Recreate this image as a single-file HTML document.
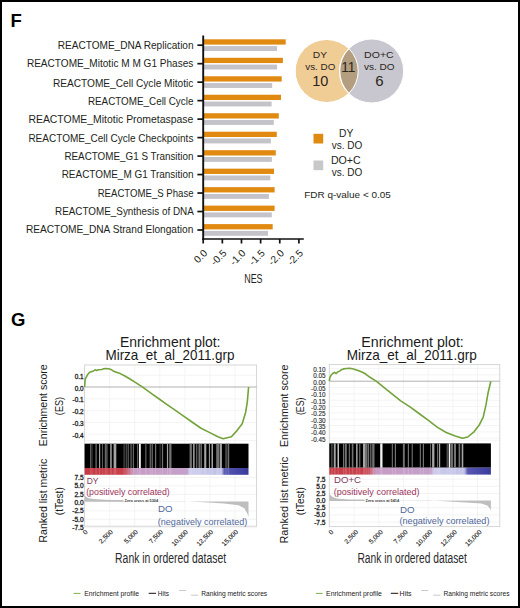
<!DOCTYPE html>
<html><head><meta charset="utf-8"><style>
html,body{margin:0;padding:0;background:#fff;}
body{width:520px;height:608px;overflow:hidden;font-family:"Liberation Sans", sans-serif;}
svg{display:block;}
</style></head><body>
<svg width="520" height="608" viewBox="0 0 520 608" font-family='"Liberation Sans", sans-serif'>
<rect x="0" y="0" width="520" height="608" fill="#fff"/>
<text id="F" x="10.40" y="26.60" font-size="18.50" fill="#000" font-weight="bold">F</text>
<text id="lab0" x="193.60" y="48.90" font-size="10.20" text-anchor="end" textLength="135.90" lengthAdjust="spacingAndGlyphs" fill="#231f20">REACTOME_DNA Replication</text>
<line x1="197.4" y1="45.20" x2="203" y2="45.20" stroke="#111" stroke-width="1.7"/>
<rect x="204" y="39.30" width="81.70" height="5.3" fill="#E08A12"/>
<rect x="204" y="46.10" width="73.10" height="4.9" fill="#C4C3C9"/>
<text id="lab1" x="193.40" y="67.24" font-size="10.20" text-anchor="end" textLength="166.50" lengthAdjust="spacingAndGlyphs" fill="#231f20">REACTOME_Mitotic M M G1 Phases</text>
<line x1="197.4" y1="63.68" x2="203" y2="63.68" stroke="#111" stroke-width="1.7"/>
<rect x="204" y="57.78" width="78.90" height="5.3" fill="#E08A12"/>
<rect x="204" y="64.58" width="73.10" height="4.9" fill="#C4C3C9"/>
<text id="lab2" x="193.40" y="86.58" font-size="10.20" text-anchor="end" textLength="140.50" lengthAdjust="spacingAndGlyphs" fill="#231f20">REACTOME_Cell Cycle Mitotic</text>
<line x1="197.4" y1="82.16" x2="203" y2="82.16" stroke="#111" stroke-width="1.7"/>
<rect x="204" y="76.26" width="77.70" height="5.3" fill="#E08A12"/>
<rect x="204" y="83.06" width="68.20" height="4.9" fill="#C4C3C9"/>
<text id="lab3" x="193.40" y="104.92" font-size="10.20" text-anchor="end" textLength="105.50" lengthAdjust="spacingAndGlyphs" fill="#231f20">REACTOME_Cell Cycle</text>
<line x1="197.4" y1="100.64" x2="203" y2="100.64" stroke="#111" stroke-width="1.7"/>
<rect x="204" y="94.74" width="77.00" height="5.3" fill="#E08A12"/>
<rect x="204" y="101.54" width="67.60" height="4.9" fill="#C4C3C9"/>
<text id="lab4" x="193.40" y="123.26" font-size="10.20" text-anchor="end" textLength="165.00" lengthAdjust="spacingAndGlyphs" fill="#231f20">REACTOME_Mitotic Prometaspase</text>
<line x1="197.4" y1="119.12" x2="203" y2="119.12" stroke="#111" stroke-width="1.7"/>
<rect x="204" y="113.22" width="74.80" height="5.3" fill="#E08A12"/>
<rect x="204" y="120.02" width="69.80" height="4.9" fill="#C4C3C9"/>
<text id="lab5" x="193.40" y="141.60" font-size="10.20" text-anchor="end" textLength="165.00" lengthAdjust="spacingAndGlyphs" fill="#231f20">REACTOME_Cell Cycle Checkpoints</text>
<line x1="197.4" y1="137.60" x2="203" y2="137.60" stroke="#111" stroke-width="1.7"/>
<rect x="204" y="131.70" width="72.80" height="5.3" fill="#E08A12"/>
<rect x="204" y="138.50" width="66.90" height="4.9" fill="#C4C3C9"/>
<text id="lab6" x="193.40" y="159.94" font-size="10.20" text-anchor="end" textLength="129.00" lengthAdjust="spacingAndGlyphs" fill="#231f20">REACTOME_G1 S Transition</text>
<line x1="197.4" y1="156.08" x2="203" y2="156.08" stroke="#111" stroke-width="1.7"/>
<rect x="204" y="150.18" width="71.80" height="5.3" fill="#E08A12"/>
<rect x="204" y="156.98" width="67.90" height="4.9" fill="#C4C3C9"/>
<text id="lab7" x="193.60" y="178.28" font-size="10.20" text-anchor="end" textLength="131.90" lengthAdjust="spacingAndGlyphs" fill="#231f20">REACTOME_M G1 Transition</text>
<line x1="197.4" y1="174.56" x2="203" y2="174.56" stroke="#111" stroke-width="1.7"/>
<rect x="204" y="168.66" width="70.00" height="5.3" fill="#E08A12"/>
<rect x="204" y="175.46" width="66.30" height="4.9" fill="#C4C3C9"/>
<text id="lab8" x="193.60" y="196.62" font-size="10.20" text-anchor="end" textLength="95.90" lengthAdjust="spacingAndGlyphs" fill="#231f20">REACTOME_S Phase</text>
<line x1="197.4" y1="193.04" x2="203" y2="193.04" stroke="#111" stroke-width="1.7"/>
<rect x="204" y="187.14" width="70.60" height="5.3" fill="#E08A12"/>
<rect x="204" y="193.94" width="64.90" height="4.9" fill="#C4C3C9"/>
<text id="lab9" x="193.80" y="214.96" font-size="10.20" text-anchor="end" textLength="138.80" lengthAdjust="spacingAndGlyphs" fill="#231f20">REACTOME_Synthesis of DNA</text>
<line x1="197.4" y1="211.52" x2="203" y2="211.52" stroke="#111" stroke-width="1.7"/>
<rect x="204" y="205.62" width="70.60" height="5.3" fill="#E08A12"/>
<rect x="204" y="212.42" width="67.80" height="4.9" fill="#C4C3C9"/>
<text id="lab10" x="193.40" y="233.30" font-size="10.20" text-anchor="end" textLength="167.50" lengthAdjust="spacingAndGlyphs" fill="#231f20">REACTOME_DNA Strand Elongation</text>
<line x1="197.4" y1="230.00" x2="203" y2="230.00" stroke="#111" stroke-width="1.7"/>
<rect x="204" y="224.10" width="68.70" height="5.3" fill="#E08A12"/>
<rect x="204" y="230.90" width="64.00" height="4.9" fill="#C4C3C9"/>
<line x1="203.2" y1="35.5" x2="203.2" y2="240" stroke="#111" stroke-width="1.9"/>
<line x1="202.3" y1="239" x2="303.8" y2="239" stroke="#111" stroke-width="1.7"/>
<line x1="203.20" y1="239" x2="203.20" y2="243.5" stroke="#111" stroke-width="1.7"/>
<text id="nx0" transform="translate(208.10,253.80) rotate(-45)" font-size="10.20" text-anchor="end" fill="#231f20">0.0</text>
<line x1="222.34" y1="239" x2="222.34" y2="243.5" stroke="#111" stroke-width="1.7"/>
<text id="nx1" transform="translate(227.24,253.80) rotate(-45)" font-size="10.20" text-anchor="end" fill="#231f20">-0.5</text>
<line x1="241.48" y1="239" x2="241.48" y2="243.5" stroke="#111" stroke-width="1.7"/>
<text id="nx2" transform="translate(246.38,253.80) rotate(-45)" font-size="10.20" text-anchor="end" fill="#231f20">-1.0</text>
<line x1="260.62" y1="239" x2="260.62" y2="243.5" stroke="#111" stroke-width="1.7"/>
<text id="nx3" transform="translate(265.52,253.80) rotate(-45)" font-size="10.20" text-anchor="end" fill="#231f20">-1.5</text>
<line x1="279.76" y1="239" x2="279.76" y2="243.5" stroke="#111" stroke-width="1.7"/>
<text id="nx4" transform="translate(284.66,253.80) rotate(-45)" font-size="10.20" text-anchor="end" fill="#231f20">-2.0</text>
<line x1="298.90" y1="239" x2="298.90" y2="243.5" stroke="#111" stroke-width="1.7"/>
<text id="nx5" transform="translate(303.80,253.80) rotate(-45)" font-size="10.20" text-anchor="end" fill="#231f20">-2.5</text>
<text id="NES" x="253.40" y="283.10" font-size="13.00" text-anchor="middle" textLength="18.28" lengthAdjust="spacingAndGlyphs" fill="#231f20">NES</text>
<circle cx="326.6" cy="71" r="31.6" fill="#F1CD96" stroke="#fff" stroke-width="1"/>
<circle cx="371.7" cy="71" r="32" fill="#C8C7CF" stroke="#fff" stroke-width="1"/>
<clipPath id="cl"><circle cx="326.6" cy="71" r="31.6"/></clipPath>
<circle cx="371.7" cy="71" r="32" fill="#B39E80" stroke="#fff" stroke-width="1.2" clip-path="url(#cl)"/>
<circle cx="326.6" cy="71" r="31.6" fill="none" stroke="#fff" stroke-width="1"/>
<text id="vDY" x="312.80" y="58.20" font-size="9.40" textLength="14.20" lengthAdjust="spacingAndGlyphs" fill="#2b2622">DY</text>
<text id="vvs1" x="305.30" y="70.20" font-size="9.40" textLength="30.00" lengthAdjust="spacingAndGlyphs" fill="#2b2622">vs. DO</text>
<text id="v10" x="312.20" y="86.20" font-size="14.20" textLength="16.11" lengthAdjust="spacingAndGlyphs" fill="#2b2622">10</text>
<text id="v11" x="341.30" y="72.30" font-size="14.20" textLength="14.14" lengthAdjust="spacingAndGlyphs" fill="#2b2622">11</text>
<text id="vDOC" x="364.10" y="57.60" font-size="9.40" textLength="29.59" lengthAdjust="spacingAndGlyphs" fill="#2b2622">DO+C</text>
<text id="vvs2" x="364.00" y="69.70" font-size="9.40" textLength="30.60" lengthAdjust="spacingAndGlyphs" fill="#2b2622">vs. DO</text>
<text id="v6" x="375.20" y="86.00" font-size="15.00" fill="#2b2622">6</text>
<rect x="313.5" y="133.8" width="9.7" height="9.7" fill="#E08A12"/>
<rect x="313.5" y="160.5" width="9.7" height="9.7" fill="#C8C8CA"/>
<text id="lDY" x="339.10" y="136.70" font-size="10.50" textLength="14.31" lengthAdjust="spacingAndGlyphs" fill="#231f20">DY</text>
<text id="lvs1" x="331.75" y="149.00" font-size="10.50" textLength="30.54" lengthAdjust="spacingAndGlyphs" fill="#231f20">vs. DO</text>
<text id="lDOC" x="330.90" y="163.90" font-size="10.50" textLength="29.84" lengthAdjust="spacingAndGlyphs" fill="#231f20">DO+C</text>
<text id="lvs2" x="331.75" y="176.00" font-size="10.50" textLength="30.54" lengthAdjust="spacingAndGlyphs" fill="#231f20">vs. DO</text>
<text id="FDR" x="304.30" y="197.70" font-size="9.80" textLength="86.52" lengthAdjust="spacingAndGlyphs" fill="#231f20">FDR q-value &lt; 0.05</text>
<text id="G" x="11.00" y="325.80" font-size="18.50" fill="#000" font-weight="bold">G</text>
<line x1="109.66" y1="365" x2="109.66" y2="526.2" stroke="#F1F1F1" stroke-width="0.8"/>
<line x1="134.72" y1="365" x2="134.72" y2="526.2" stroke="#F1F1F1" stroke-width="0.8"/>
<line x1="159.78" y1="365" x2="159.78" y2="526.2" stroke="#F1F1F1" stroke-width="0.8"/>
<line x1="184.84" y1="365" x2="184.84" y2="526.2" stroke="#F1F1F1" stroke-width="0.8"/>
<line x1="209.90" y1="365" x2="209.90" y2="526.2" stroke="#F1F1F1" stroke-width="0.8"/>
<line x1="234.96" y1="365" x2="234.96" y2="526.2" stroke="#F1F1F1" stroke-width="0.8"/>
<line x1="84.6" y1="375.20" x2="256.6" y2="375.20" stroke="#F1F1F1" stroke-width="0.8"/>
<line x1="84.6" y1="398.80" x2="256.6" y2="398.80" stroke="#F1F1F1" stroke-width="0.8"/>
<line x1="84.6" y1="410.60" x2="256.6" y2="410.60" stroke="#F1F1F1" stroke-width="0.8"/>
<line x1="84.6" y1="422.40" x2="256.6" y2="422.40" stroke="#F1F1F1" stroke-width="0.8"/>
<line x1="84.6" y1="434.20" x2="256.6" y2="434.20" stroke="#F1F1F1" stroke-width="0.8"/>
<line x1="84.6" y1="440.50" x2="256.6" y2="440.50" stroke="#F1F1F1" stroke-width="0.8"/>
<line x1="84.6" y1="477.55" x2="256.6" y2="477.55" stroke="#F0F0F0" stroke-width="0.8"/>
<line x1="84.6" y1="485.90" x2="256.6" y2="485.90" stroke="#F0F0F0" stroke-width="0.8"/>
<line x1="84.6" y1="494.25" x2="256.6" y2="494.25" stroke="#F0F0F0" stroke-width="0.8"/>
<line x1="84.6" y1="510.95" x2="256.6" y2="510.95" stroke="#F0F0F0" stroke-width="0.8"/>
<line x1="84.6" y1="519.30" x2="256.6" y2="519.30" stroke="#F0F0F0" stroke-width="0.8"/>
<line x1="84.6" y1="527.65" x2="256.6" y2="527.65" stroke="#F0F0F0" stroke-width="0.8"/>
<rect x="84.6" y="365" width="172.00" height="161.20" fill="none" stroke="#D2D2D2" stroke-width="0.9"/>
<line x1="84.6" y1="387.0" x2="256.6" y2="387.0" stroke="#A8A8A8" stroke-width="0.9"/>
<text id="Les0" x="83.60" y="378.80" font-size="6.40" text-anchor="end" fill="#222" stroke="#222" stroke-width="0.3">0.1</text>
<text id="Les1" x="83.60" y="390.60" font-size="6.40" text-anchor="end" fill="#222" stroke="#222" stroke-width="0.3">0.0</text>
<text id="Les2" x="83.60" y="402.40" font-size="6.40" text-anchor="end" fill="#222" stroke="#222" stroke-width="0.3">-0.1</text>
<text id="Les3" x="83.60" y="414.20" font-size="6.40" text-anchor="end" fill="#222" stroke="#222" stroke-width="0.3">-0.2</text>
<text id="Les4" x="83.60" y="426.00" font-size="6.40" text-anchor="end" fill="#222" stroke="#222" stroke-width="0.3">-0.3</text>
<text id="Les5" x="83.60" y="437.80" font-size="6.40" text-anchor="end" fill="#222" stroke="#222" stroke-width="0.3">-0.4</text>
<polyline points="84.6,387.0 85.2,379.4 86.3,377.1 87.5,374.8 89.4,372.5 91.7,371.5 93.6,370.9 95.2,369.8 96.7,370.5 98.6,369.8 101.7,369.5 103.6,368.8 105.5,368.5 108.6,368.8 110.9,369.4 113.2,370.9 116.3,372.3 120.2,373.6 124.0,375.5 129.2,378.5 135.7,382.6 143.0,387.4 151.9,393.9 159.9,399.5 166.0,403.8 174.7,409.9 183.3,415.9 192.0,422.0 200.6,428.0 209.3,432.4 217.9,436.7 223.1,438.8 231.4,436.7 237.0,430.6 242.2,423.7 245.6,412.5 247.3,402.1 248.6,387.0" fill="none" stroke="#73A33B" stroke-width="1.6" stroke-linejoin="round"/>
<rect x="84.6" y="443.7" width="163.90" height="24.30" fill="#000"/>
<linearGradient id="gL" x1="0" x2="1" y1="0" y2="0"><stop offset="0" stop-color="#C43A46"/><stop offset="0.24" stop-color="#C8424E"/><stop offset="0.3" stop-color="#C69CC4"/><stop offset="0.625" stop-color="#C4A0CA"/><stop offset="0.64" stop-color="#CCCCEC"/><stop offset="0.835" stop-color="#C0C0E6"/><stop offset="0.855" stop-color="#5656B2"/><stop offset="1" stop-color="#3A3A9C"/></linearGradient>
<rect x="84.6" y="468.0" width="163.90" height="6.80" fill="url(#gL)"/>
<rect x="90.2" y="443.7" width="1.10" height="24.30" fill="#727272"/>
<rect x="90.2" y="468.0" width="1.10" height="6.80" fill="#fff" fill-opacity="0.15"/>
<rect x="91.7" y="443.7" width="0.80" height="24.30" fill="#4a4a4a"/>
<rect x="91.7" y="468.0" width="0.80" height="6.80" fill="#fff" fill-opacity="0.15"/>
<rect x="95.5" y="443.7" width="1.20" height="24.30" fill="#727272"/>
<rect x="95.5" y="468.0" width="1.20" height="6.80" fill="#fff" fill-opacity="0.15"/>
<rect x="99" y="443.7" width="1.20" height="24.30" fill="#a4a4a4"/>
<rect x="99" y="468.0" width="1.20" height="6.80" fill="#fff" fill-opacity="0.15"/>
<rect x="102" y="443.7" width="0.80" height="24.30" fill="#727272"/>
<rect x="102" y="468.0" width="0.80" height="6.80" fill="#fff" fill-opacity="0.15"/>
<rect x="104.8" y="443.7" width="1.10" height="24.30" fill="#727272"/>
<rect x="104.8" y="468.0" width="1.10" height="6.80" fill="#fff" fill-opacity="0.15"/>
<rect x="106.3" y="443.7" width="1.20" height="24.30" fill="#727272"/>
<rect x="106.3" y="468.0" width="1.20" height="6.80" fill="#fff" fill-opacity="0.15"/>
<rect x="110.2" y="443.7" width="1.50" height="24.30" fill="#a4a4a4"/>
<rect x="110.2" y="468.0" width="1.50" height="6.80" fill="#fff" fill-opacity="0.15"/>
<rect x="113.6" y="443.7" width="2.70" height="24.30" fill="#a4a4a4"/>
<rect x="113.6" y="468.0" width="2.70" height="6.80" fill="#fff" fill-opacity="0.15"/>
<rect x="123.5" y="443.7" width="1.20" height="24.30" fill="#4a4a4a"/>
<rect x="123.5" y="468.0" width="1.20" height="6.80" fill="#fff" fill-opacity="0.15"/>
<rect x="125.8" y="443.7" width="0.80" height="24.30" fill="#727272"/>
<rect x="125.8" y="468.0" width="0.80" height="6.80" fill="#fff" fill-opacity="0.15"/>
<rect x="127.8" y="443.7" width="0.70" height="24.30" fill="#a4a4a4"/>
<rect x="127.8" y="468.0" width="0.70" height="6.80" fill="#fff" fill-opacity="0.15"/>
<rect x="130.5" y="443.7" width="1.10" height="24.30" fill="#727272"/>
<rect x="130.5" y="468.0" width="1.10" height="6.80" fill="#fff" fill-opacity="0.15"/>
<rect x="132.8" y="443.7" width="1.10" height="24.30" fill="#727272"/>
<rect x="132.8" y="468.0" width="1.10" height="6.80" fill="#fff" fill-opacity="0.15"/>
<rect x="137" y="443.7" width="0.80" height="24.30" fill="#727272"/>
<rect x="137" y="468.0" width="0.80" height="6.80" fill="#fff" fill-opacity="0.15"/>
<rect x="138.9" y="443.7" width="1.90" height="24.30" fill="#f2f2f2"/>
<rect x="138.9" y="468.0" width="1.90" height="6.80" fill="#fff" fill-opacity="0.15"/>
<rect x="145" y="443.7" width="1.60" height="24.30" fill="#4a4a4a"/>
<rect x="145" y="468.0" width="1.60" height="6.80" fill="#fff" fill-opacity="0.15"/>
<rect x="149.7" y="443.7" width="1.10" height="24.30" fill="#727272"/>
<rect x="149.7" y="468.0" width="1.10" height="6.80" fill="#fff" fill-opacity="0.15"/>
<rect x="151.6" y="443.7" width="1.20" height="24.30" fill="#727272"/>
<rect x="151.6" y="468.0" width="1.20" height="6.80" fill="#fff" fill-opacity="0.15"/>
<rect x="155" y="443.7" width="1.20" height="24.30" fill="#727272"/>
<rect x="155" y="468.0" width="1.20" height="6.80" fill="#fff" fill-opacity="0.15"/>
<rect x="159.7" y="443.7" width="0.80" height="24.30" fill="#4a4a4a"/>
<rect x="159.7" y="468.0" width="0.80" height="6.80" fill="#fff" fill-opacity="0.15"/>
<rect x="161.9" y="443.7" width="1.20" height="24.30" fill="#727272"/>
<rect x="161.9" y="468.0" width="1.20" height="6.80" fill="#fff" fill-opacity="0.15"/>
<rect x="166.9" y="443.7" width="1.20" height="24.30" fill="#a4a4a4"/>
<rect x="166.9" y="468.0" width="1.20" height="6.80" fill="#fff" fill-opacity="0.15"/>
<rect x="169.2" y="443.7" width="2.30" height="24.30" fill="#727272"/>
<rect x="169.2" y="468.0" width="2.30" height="6.80" fill="#fff" fill-opacity="0.15"/>
<rect x="189.6" y="443.7" width="2.30" height="24.30" fill="#727272"/>
<rect x="189.6" y="468.0" width="2.30" height="6.80" fill="#fff" fill-opacity="0.15"/>
<rect x="193.1" y="443.7" width="1.50" height="24.30" fill="#a4a4a4"/>
<rect x="193.1" y="468.0" width="1.50" height="6.80" fill="#fff" fill-opacity="0.15"/>
<rect x="196.2" y="443.7" width="1.10" height="24.30" fill="#727272"/>
<rect x="196.2" y="468.0" width="1.10" height="6.80" fill="#fff" fill-opacity="0.15"/>
<rect x="198.5" y="443.7" width="1.50" height="24.30" fill="#727272"/>
<rect x="198.5" y="468.0" width="1.50" height="6.80" fill="#fff" fill-opacity="0.15"/>
<rect x="200.6" y="443.7" width="1.00" height="24.30" fill="#a4a4a4"/>
<rect x="200.6" y="468.0" width="1.00" height="6.80" fill="#fff" fill-opacity="0.15"/>
<rect x="204.2" y="443.7" width="2.10" height="24.30" fill="#a4a4a4"/>
<rect x="204.2" y="468.0" width="2.10" height="6.80" fill="#fff" fill-opacity="0.15"/>
<rect x="208.9" y="443.7" width="1.00" height="24.30" fill="#a4a4a4"/>
<rect x="208.9" y="468.0" width="1.00" height="6.80" fill="#fff" fill-opacity="0.15"/>
<rect x="211.5" y="443.7" width="1.50" height="24.30" fill="#a4a4a4"/>
<rect x="211.5" y="468.0" width="1.50" height="6.80" fill="#fff" fill-opacity="0.15"/>
<rect x="216.2" y="443.7" width="3.10" height="24.30" fill="#727272"/>
<rect x="216.2" y="468.0" width="3.10" height="6.80" fill="#fff" fill-opacity="0.15"/>
<rect x="219.8" y="443.7" width="2.10" height="24.30" fill="#a4a4a4"/>
<rect x="219.8" y="468.0" width="2.10" height="6.80" fill="#fff" fill-opacity="0.15"/>
<rect x="225.5" y="443.7" width="1.10" height="24.30" fill="#727272"/>
<rect x="225.5" y="468.0" width="1.10" height="6.80" fill="#fff" fill-opacity="0.15"/>
<rect x="227.6" y="443.7" width="1.60" height="24.30" fill="#727272"/>
<rect x="227.6" y="468.0" width="1.60" height="6.80" fill="#fff" fill-opacity="0.15"/>
<polygon points="84.6,501.7 84.6,495.6 86.0,496.8 88.0,497.9 90.4,498.6 94.0,499.1 97.4,499.3 105.0,499.7 115.0,499.9 123.5,500.1 123.5,501.7 140.0,501.7 185.0,501.7 185.8,501.6 200.0,502.1 224.0,503.4 238.5,505.2 244.3,508.2 247.3,513.5 248.5,517.2 248.5,501.6 185.8,501.4" fill="#BEBEBE"/>
<text id="Lrl0" x="83.60" y="479.90" font-size="6.60" text-anchor="end" fill="#222" stroke="#222" stroke-width="0.3">7.5</text>
<text id="Lrl1" x="83.60" y="488.20" font-size="6.60" text-anchor="end" fill="#222" stroke="#222" stroke-width="0.3">5.0</text>
<text id="Lrl2" x="83.60" y="496.60" font-size="6.60" text-anchor="end" fill="#222" stroke="#222" stroke-width="0.3">2.5</text>
<text id="Lrl3" x="83.60" y="504.90" font-size="6.60" text-anchor="end" fill="#222" stroke="#222" stroke-width="0.3">0.0</text>
<text id="Lrl4" x="83.60" y="513.30" font-size="6.60" text-anchor="end" fill="#222" stroke="#222" stroke-width="0.3">-2.5</text>
<text id="Lrl5" x="83.60" y="521.60" font-size="6.60" text-anchor="end" fill="#222" stroke="#222" stroke-width="0.3">-5.0</text>
<text id="Lrl6" x="83.60" y="530.00" font-size="6.60" text-anchor="end" fill="#222" stroke="#222" stroke-width="0.3">-7.5</text>
<text id="Lzc" x="124.60" y="502.20" font-size="4.00" textLength="33.50" lengthAdjust="spacingAndGlyphs" fill="#3a3a3a" font-weight="bold">Zero cross at 5304</text>
<text id="Lp1" x="86.70" y="484.00" font-size="9.00" textLength="11.75" lengthAdjust="spacingAndGlyphs" fill="#7E3A5E">DY</text>
<text id="Lp2" x="86.20" y="495.30" font-size="9.00" textLength="83.60" lengthAdjust="spacingAndGlyphs" fill="#A0345C">(positively correlated)</text>
<text id="Ln1" x="158.10" y="512.30" font-size="9.00" textLength="14.52" lengthAdjust="spacingAndGlyphs" fill="#50679A">DO</text>
<text id="Ln2" x="157.80" y="525.10" font-size="9.00" textLength="89.41" lengthAdjust="spacingAndGlyphs" fill="#50679A">(negatively correlated)</text>
<text id="Lxl0" transform="translate(88.20,532.30) rotate(-45)" font-size="6.60" text-anchor="end" fill="#222" stroke="#222" stroke-width="0.12">0</text>
<text id="Lxl1" transform="translate(113.26,532.30) rotate(-45)" font-size="6.60" text-anchor="end" fill="#222" stroke="#222" stroke-width="0.12">2,500</text>
<text id="Lxl2" transform="translate(138.32,532.30) rotate(-45)" font-size="6.60" text-anchor="end" fill="#222" stroke="#222" stroke-width="0.12">5,000</text>
<text id="Lxl3" transform="translate(163.38,532.30) rotate(-45)" font-size="6.60" text-anchor="end" fill="#222" stroke="#222" stroke-width="0.12">7,500</text>
<text id="Lxl4" transform="translate(188.44,532.30) rotate(-45)" font-size="6.60" text-anchor="end" fill="#222" stroke="#222" stroke-width="0.12">10,000</text>
<text id="Lxl5" transform="translate(213.50,532.30) rotate(-45)" font-size="6.60" text-anchor="end" fill="#222" stroke="#222" stroke-width="0.12">12,500</text>
<text id="Lxl6" transform="translate(238.56,532.30) rotate(-45)" font-size="6.60" text-anchor="end" fill="#222" stroke="#222" stroke-width="0.12">15,000</text>
<text id="Lt1" x="170.20" y="346.70" font-size="15.00" text-anchor="middle" textLength="100.53" lengthAdjust="spacingAndGlyphs" fill="#1a1a1a">Enrichment plot:</text>
<text id="Lt2" x="170.00" y="359.60" font-size="15.00" text-anchor="middle" textLength="129.10" lengthAdjust="spacingAndGlyphs" fill="#1a1a1a">Mirza_et_al_2011.grp</text>
<text id="Lt3" x="170.65" y="563.40" font-size="15.40" text-anchor="middle" textLength="111.10" lengthAdjust="spacingAndGlyphs" fill="#2a2a2a">Rank in ordered dataset</text>
<text id="Ly1" transform="translate(47.30,405.30) rotate(-90)" font-size="10.60" text-anchor="middle" textLength="81.80" lengthAdjust="spacingAndGlyphs" fill="#1a1a1a">Enrichment score</text>
<text id="Ly2" transform="translate(63.20,406.10) rotate(-90)" font-size="10.60" text-anchor="middle" textLength="18.08" lengthAdjust="spacingAndGlyphs" fill="#1a1a1a">(ES)</text>
<text id="Ly3" transform="translate(47.30,500.70) rotate(-90)" font-size="10.60" text-anchor="middle" textLength="83.70" lengthAdjust="spacingAndGlyphs" fill="#1a1a1a">Ranked list metric</text>
<text id="Ly4" transform="translate(63.20,501.20) rotate(-90)" font-size="10.60" text-anchor="middle" textLength="27.91" lengthAdjust="spacingAndGlyphs" fill="#1a1a1a">(tTest)</text>
<line x1="73.7" y1="593.4" x2="80.5" y2="593.4" stroke="#7FB144" stroke-width="1"/>
<text id="Lg1" x="84.20" y="595.90" font-size="7.00" textLength="54.90" lengthAdjust="spacingAndGlyphs" fill="#222">Enrichment profile</text>
<line x1="148.7" y1="593.3" x2="156.10000000000002" y2="593.3" stroke="#111" stroke-width="1"/>
<text id="Lg2" x="157.80" y="595.50" font-size="7.00" textLength="11.10" lengthAdjust="spacingAndGlyphs" fill="#222">Hits</text>
<line x1="179.2" y1="590.5" x2="186.2" y2="590.5" stroke="#BBB" stroke-width="0.8"/>
<line x1="191.2" y1="595.2" x2="198.2" y2="595.2" stroke="#BBB" stroke-width="0.8"/>
<text id="Lg3" x="201.20" y="595.50" font-size="7.00" textLength="66.00" lengthAdjust="spacingAndGlyphs" fill="#222">Ranking metric scores</text>
<line x1="354.00" y1="364.6" x2="354.00" y2="526.6" stroke="#F1F1F1" stroke-width="0.8"/>
<line x1="378.70" y1="364.6" x2="378.70" y2="526.6" stroke="#F1F1F1" stroke-width="0.8"/>
<line x1="403.40" y1="364.6" x2="403.40" y2="526.6" stroke="#F1F1F1" stroke-width="0.8"/>
<line x1="428.10" y1="364.6" x2="428.10" y2="526.6" stroke="#F1F1F1" stroke-width="0.8"/>
<line x1="452.80" y1="364.6" x2="452.80" y2="526.6" stroke="#F1F1F1" stroke-width="0.8"/>
<line x1="477.50" y1="364.6" x2="477.50" y2="526.6" stroke="#F1F1F1" stroke-width="0.8"/>
<line x1="329.3" y1="368.54" x2="499.8" y2="368.54" stroke="#F1F1F1" stroke-width="0.8"/>
<line x1="329.3" y1="374.87" x2="499.8" y2="374.87" stroke="#F1F1F1" stroke-width="0.8"/>
<line x1="329.3" y1="387.53" x2="499.8" y2="387.53" stroke="#F1F1F1" stroke-width="0.8"/>
<line x1="329.3" y1="393.86" x2="499.8" y2="393.86" stroke="#F1F1F1" stroke-width="0.8"/>
<line x1="329.3" y1="400.19" x2="499.8" y2="400.19" stroke="#F1F1F1" stroke-width="0.8"/>
<line x1="329.3" y1="406.52" x2="499.8" y2="406.52" stroke="#F1F1F1" stroke-width="0.8"/>
<line x1="329.3" y1="412.85" x2="499.8" y2="412.85" stroke="#F1F1F1" stroke-width="0.8"/>
<line x1="329.3" y1="419.18" x2="499.8" y2="419.18" stroke="#F1F1F1" stroke-width="0.8"/>
<line x1="329.3" y1="425.51" x2="499.8" y2="425.51" stroke="#F1F1F1" stroke-width="0.8"/>
<line x1="329.3" y1="431.84" x2="499.8" y2="431.84" stroke="#F1F1F1" stroke-width="0.8"/>
<line x1="329.3" y1="438.17" x2="499.8" y2="438.17" stroke="#F1F1F1" stroke-width="0.8"/>
<line x1="329.3" y1="440.30" x2="499.8" y2="440.30" stroke="#F1F1F1" stroke-width="0.8"/>
<line x1="329.3" y1="479.18" x2="499.8" y2="479.18" stroke="#F0F0F0" stroke-width="0.8"/>
<line x1="329.3" y1="486.32" x2="499.8" y2="486.32" stroke="#F0F0F0" stroke-width="0.8"/>
<line x1="329.3" y1="493.46" x2="499.8" y2="493.46" stroke="#F0F0F0" stroke-width="0.8"/>
<line x1="329.3" y1="507.74" x2="499.8" y2="507.74" stroke="#F0F0F0" stroke-width="0.8"/>
<line x1="329.3" y1="514.88" x2="499.8" y2="514.88" stroke="#F0F0F0" stroke-width="0.8"/>
<line x1="329.3" y1="522.02" x2="499.8" y2="522.02" stroke="#F0F0F0" stroke-width="0.8"/>
<rect x="329.3" y="364.6" width="170.50" height="162.00" fill="none" stroke="#D2D2D2" stroke-width="0.9"/>
<line x1="329.3" y1="381.2" x2="499.8" y2="381.2" stroke="#A8A8A8" stroke-width="0.9"/>
<text id="Res0" x="325.60" y="372.14" font-size="6.40" text-anchor="end" fill="#222" stroke="#222" stroke-width="0.1">0.10</text>
<text id="Res1" x="325.60" y="378.47" font-size="6.40" text-anchor="end" fill="#222" stroke="#222" stroke-width="0.1">0.05</text>
<text id="Res2" x="325.60" y="384.80" font-size="6.40" text-anchor="end" fill="#222" stroke="#222" stroke-width="0.1">0.00</text>
<text id="Res3" x="325.60" y="391.13" font-size="6.40" text-anchor="end" fill="#222" stroke="#222" stroke-width="0.1">-0.05</text>
<text id="Res4" x="325.60" y="397.46" font-size="6.40" text-anchor="end" fill="#222" stroke="#222" stroke-width="0.1">-0.10</text>
<text id="Res5" x="325.60" y="403.79" font-size="6.40" text-anchor="end" fill="#222" stroke="#222" stroke-width="0.1">-0.15</text>
<text id="Res6" x="325.60" y="410.12" font-size="6.40" text-anchor="end" fill="#222" stroke="#222" stroke-width="0.1">-0.20</text>
<text id="Res7" x="325.60" y="416.45" font-size="6.40" text-anchor="end" fill="#222" stroke="#222" stroke-width="0.1">-0.25</text>
<text id="Res8" x="325.60" y="422.78" font-size="6.40" text-anchor="end" fill="#222" stroke="#222" stroke-width="0.1">-0.30</text>
<text id="Res9" x="325.60" y="429.11" font-size="6.40" text-anchor="end" fill="#222" stroke="#222" stroke-width="0.1">-0.35</text>
<text id="Res10" x="325.60" y="435.44" font-size="6.40" text-anchor="end" fill="#222" stroke="#222" stroke-width="0.1">-0.40</text>
<text id="Res11" x="325.60" y="441.77" font-size="6.40" text-anchor="end" fill="#222" stroke="#222" stroke-width="0.1">-0.45</text>
<polyline points="329.3,381.2 329.9,377.4 331.5,374.7 333.0,373.2 334.5,372.4 336.1,373.5 337.6,372.0 339.5,371.1 341.5,369.7 343.4,368.9 346.5,368.5 349.5,368.3 352.6,368.8 355.7,369.7 358.8,370.8 361.8,372.0 364.9,373.5 368.0,375.8 370.0,377.3 376.5,381.4 384.5,387.8 392.6,394.3 400.7,400.8 410.0,406.8 419.0,413.5 428.1,420.2 437.1,427.1 446.2,432.5 455.2,436.1 462.4,438.3 467.8,437.0 474.2,431.6 479.6,424.4 483.2,417.1 485.9,405.4 488.1,392.7 490.8,381.2" fill="none" stroke="#73A33B" stroke-width="1.6" stroke-linejoin="round"/>
<rect x="329.3" y="443.4" width="161.60" height="24.30" fill="#000"/>
<linearGradient id="gR" x1="0" x2="1" y1="0" y2="0"><stop offset="0" stop-color="#C43A46"/><stop offset="0.24" stop-color="#C8424E"/><stop offset="0.29" stop-color="#C69CC4"/><stop offset="0.63" stop-color="#C4A0CA"/><stop offset="0.652" stop-color="#CCCCEC"/><stop offset="0.835" stop-color="#C0C0E6"/><stop offset="0.857" stop-color="#5656B2"/><stop offset="1" stop-color="#3A3A9C"/></linearGradient>
<rect x="329.3" y="467.7" width="161.60" height="6.90" fill="url(#gR)"/>
<rect x="331.1" y="443.4" width="1.50" height="24.30" fill="#4a4a4a"/>
<rect x="331.1" y="467.7" width="1.50" height="6.90" fill="#fff" fill-opacity="0.15"/>
<rect x="333.8" y="443.4" width="1.90" height="24.30" fill="#a4a4a4"/>
<rect x="333.8" y="467.7" width="1.90" height="6.90" fill="#fff" fill-opacity="0.15"/>
<rect x="337.6" y="443.4" width="1.20" height="24.30" fill="#f2f2f2"/>
<rect x="337.6" y="467.7" width="1.20" height="6.90" fill="#fff" fill-opacity="0.15"/>
<rect x="343" y="443.4" width="1.20" height="24.30" fill="#727272"/>
<rect x="343" y="467.7" width="1.20" height="6.90" fill="#fff" fill-opacity="0.15"/>
<rect x="344.9" y="443.4" width="1.90" height="24.30" fill="#727272"/>
<rect x="344.9" y="467.7" width="1.90" height="6.90" fill="#fff" fill-opacity="0.15"/>
<rect x="348.8" y="443.4" width="1.10" height="24.30" fill="#727272"/>
<rect x="348.8" y="467.7" width="1.10" height="6.90" fill="#fff" fill-opacity="0.15"/>
<rect x="351.8" y="443.4" width="1.60" height="24.30" fill="#727272"/>
<rect x="351.8" y="467.7" width="1.60" height="6.90" fill="#fff" fill-opacity="0.15"/>
<rect x="356.1" y="443.4" width="1.50" height="24.30" fill="#a4a4a4"/>
<rect x="356.1" y="467.7" width="1.50" height="6.90" fill="#fff" fill-opacity="0.15"/>
<rect x="359.2" y="443.4" width="1.10" height="24.30" fill="#727272"/>
<rect x="359.2" y="467.7" width="1.10" height="6.90" fill="#fff" fill-opacity="0.15"/>
<rect x="363" y="443.4" width="2.70" height="24.30" fill="#a4a4a4"/>
<rect x="363" y="467.7" width="2.70" height="6.90" fill="#fff" fill-opacity="0.15"/>
<rect x="366" y="443.4" width="1.50" height="24.30" fill="#727272"/>
<rect x="366" y="467.7" width="1.50" height="6.90" fill="#fff" fill-opacity="0.15"/>
<rect x="367.9" y="443.4" width="1.20" height="24.30" fill="#727272"/>
<rect x="367.9" y="467.7" width="1.20" height="6.90" fill="#fff" fill-opacity="0.15"/>
<rect x="370.2" y="443.4" width="1.20" height="24.30" fill="#727272"/>
<rect x="370.2" y="467.7" width="1.20" height="6.90" fill="#fff" fill-opacity="0.15"/>
<rect x="372.2" y="443.4" width="2.30" height="24.30" fill="#727272"/>
<rect x="372.2" y="467.7" width="2.30" height="6.90" fill="#fff" fill-opacity="0.15"/>
<rect x="380.2" y="443.4" width="2.30" height="24.30" fill="#f2f2f2"/>
<rect x="380.2" y="467.7" width="2.30" height="6.90" fill="#fff" fill-opacity="0.15"/>
<rect x="391.8" y="443.4" width="1.10" height="24.30" fill="#727272"/>
<rect x="391.8" y="467.7" width="1.10" height="6.90" fill="#fff" fill-opacity="0.15"/>
<rect x="394.8" y="443.4" width="1.20" height="24.30" fill="#727272"/>
<rect x="394.8" y="467.7" width="1.20" height="6.90" fill="#fff" fill-opacity="0.15"/>
<rect x="402.9" y="443.4" width="1.90" height="24.30" fill="#727272"/>
<rect x="402.9" y="467.7" width="1.90" height="6.90" fill="#fff" fill-opacity="0.15"/>
<rect x="407.8" y="443.4" width="1.20" height="24.30" fill="#727272"/>
<rect x="407.8" y="467.7" width="1.20" height="6.90" fill="#fff" fill-opacity="0.15"/>
<rect x="411.7" y="443.4" width="1.10" height="24.30" fill="#727272"/>
<rect x="411.7" y="467.7" width="1.10" height="6.90" fill="#fff" fill-opacity="0.15"/>
<rect x="419.8" y="443.4" width="1.10" height="24.30" fill="#727272"/>
<rect x="419.8" y="467.7" width="1.10" height="6.90" fill="#fff" fill-opacity="0.15"/>
<rect x="422.8" y="443.4" width="1.20" height="24.30" fill="#727272"/>
<rect x="422.8" y="467.7" width="1.20" height="6.90" fill="#fff" fill-opacity="0.15"/>
<rect x="430.2" y="443.4" width="0.80" height="24.30" fill="#727272"/>
<rect x="430.2" y="467.7" width="0.80" height="6.90" fill="#fff" fill-opacity="0.15"/>
<rect x="432.1" y="443.4" width="2.30" height="24.30" fill="#a4a4a4"/>
<rect x="432.1" y="467.7" width="2.30" height="6.90" fill="#fff" fill-opacity="0.15"/>
<rect x="437.1" y="443.4" width="1.10" height="24.30" fill="#727272"/>
<rect x="437.1" y="467.7" width="1.10" height="6.90" fill="#fff" fill-opacity="0.15"/>
<rect x="439" y="443.4" width="1.20" height="24.30" fill="#a4a4a4"/>
<rect x="439" y="467.7" width="1.20" height="6.90" fill="#fff" fill-opacity="0.15"/>
<rect x="446.7" y="443.4" width="1.00" height="24.30" fill="#727272"/>
<rect x="446.7" y="467.7" width="1.00" height="6.90" fill="#fff" fill-opacity="0.15"/>
<rect x="448.7" y="443.4" width="1.60" height="24.30" fill="#f2f2f2"/>
<rect x="448.7" y="467.7" width="1.60" height="6.90" fill="#fff" fill-opacity="0.15"/>
<rect x="450.8" y="443.4" width="2.10" height="24.30" fill="#727272"/>
<rect x="450.8" y="467.7" width="2.10" height="6.90" fill="#fff" fill-opacity="0.15"/>
<rect x="453.9" y="443.4" width="2.10" height="24.30" fill="#727272"/>
<rect x="453.9" y="467.7" width="2.10" height="6.90" fill="#fff" fill-opacity="0.15"/>
<rect x="458.6" y="443.4" width="1.60" height="24.30" fill="#727272"/>
<rect x="458.6" y="467.7" width="1.60" height="6.90" fill="#fff" fill-opacity="0.15"/>
<rect x="461.7" y="443.4" width="1.60" height="24.30" fill="#a4a4a4"/>
<rect x="461.7" y="467.7" width="1.60" height="6.90" fill="#fff" fill-opacity="0.15"/>
<polygon points="329.3,501.1 329.3,492.9 330.5,495.2 332.0,496.6 333.7,497.5 337.0,498.4 341.4,499.0 350.0,499.4 364.5,499.6 364.5,501.1 429.0,501.1 429.0,500.6 445.0,501.2 466.0,502.4 481.5,503.5 487.7,505.8 490.2,509.0 490.9,511.0 490.9,500.6" fill="#BEBEBE"/>
<text id="Rrl0" x="325.50" y="481.70" font-size="6.60" text-anchor="end" fill="#222" stroke="#222" stroke-width="0.3">7.5</text>
<text id="Rrl1" x="325.50" y="488.90" font-size="6.60" text-anchor="end" fill="#222" stroke="#222" stroke-width="0.3">5.0</text>
<text id="Rrl2" x="325.50" y="495.90" font-size="6.60" text-anchor="end" fill="#222" stroke="#222" stroke-width="0.3">2.5</text>
<text id="Rrl3" x="325.50" y="503.00" font-size="6.60" text-anchor="end" fill="#222" stroke="#222" stroke-width="0.3">0.0</text>
<text id="Rrl4" x="325.50" y="510.00" font-size="6.60" text-anchor="end" fill="#222" stroke="#222" stroke-width="0.3">-2.5</text>
<text id="Rrl5" x="325.50" y="517.20" font-size="6.60" text-anchor="end" fill="#222" stroke="#222" stroke-width="0.3">-5.0</text>
<text id="Rrl6" x="325.50" y="524.50" font-size="6.60" text-anchor="end" fill="#222" stroke="#222" stroke-width="0.3">-7.5</text>
<text id="Rzc" x="365.60" y="502.20" font-size="4.00" textLength="33.50" lengthAdjust="spacingAndGlyphs" fill="#3a3a3a" font-weight="bold">Zero cross at 5414</text>
<text id="Rp1" x="334.00" y="483.30" font-size="9.00" textLength="26.93" lengthAdjust="spacingAndGlyphs" fill="#7E3A5E">DO+C</text>
<text id="Rp2" x="333.70" y="495.10" font-size="9.00" textLength="85.90" lengthAdjust="spacingAndGlyphs" fill="#A0345C">(positively correlated)</text>
<text id="Rn1" x="400.00" y="512.60" font-size="9.00" textLength="14.52" lengthAdjust="spacingAndGlyphs" fill="#50679A">DO</text>
<text id="Rn2" x="399.50" y="524.00" font-size="9.00" textLength="89.91" lengthAdjust="spacingAndGlyphs" fill="#50679A">(negatively correlated)</text>
<text id="Rxl0" transform="translate(333.90,532.50) rotate(-45)" font-size="6.60" text-anchor="end" fill="#222" stroke="#222" stroke-width="0.12">0</text>
<text id="Rxl1" transform="translate(358.60,532.50) rotate(-45)" font-size="6.60" text-anchor="end" fill="#222" stroke="#222" stroke-width="0.12">2,500</text>
<text id="Rxl2" transform="translate(383.30,532.50) rotate(-45)" font-size="6.60" text-anchor="end" fill="#222" stroke="#222" stroke-width="0.12">5,000</text>
<text id="Rxl3" transform="translate(408.00,532.50) rotate(-45)" font-size="6.60" text-anchor="end" fill="#222" stroke="#222" stroke-width="0.12">7,500</text>
<text id="Rxl4" transform="translate(432.70,532.50) rotate(-45)" font-size="6.60" text-anchor="end" fill="#222" stroke="#222" stroke-width="0.12">10,000</text>
<text id="Rxl5" transform="translate(457.40,532.50) rotate(-45)" font-size="6.60" text-anchor="end" fill="#222" stroke="#222" stroke-width="0.12">12,500</text>
<text id="Rxl6" transform="translate(482.10,532.50) rotate(-45)" font-size="6.60" text-anchor="end" fill="#222" stroke="#222" stroke-width="0.12">15,000</text>
<text id="Rt1" x="412.55" y="347.10" font-size="15.00" text-anchor="middle" textLength="102.49" lengthAdjust="spacingAndGlyphs" fill="#1a1a1a">Enrichment plot:</text>
<text id="Rt2" x="411.70" y="360.30" font-size="15.00" text-anchor="middle" textLength="130.10" lengthAdjust="spacingAndGlyphs" fill="#1a1a1a">Mirza_et_al_2011.grp</text>
<text id="Rt3" x="412.15" y="563.20" font-size="15.40" text-anchor="middle" textLength="109.49" lengthAdjust="spacingAndGlyphs" fill="#2a2a2a">Rank in ordered dataset</text>
<text id="Ry1" transform="translate(288.10,405.80) rotate(-90)" font-size="10.60" text-anchor="middle" textLength="82.41" lengthAdjust="spacingAndGlyphs" fill="#1a1a1a">Enrichment score</text>
<text id="Ry2" transform="translate(303.70,406.30) rotate(-90)" font-size="10.60" text-anchor="middle" textLength="17.64" lengthAdjust="spacingAndGlyphs" fill="#1a1a1a">(ES)</text>
<text id="Ry3" transform="translate(288.10,500.20) rotate(-90)" font-size="10.60" text-anchor="middle" textLength="86.72" lengthAdjust="spacingAndGlyphs" fill="#1a1a1a">Ranked list metric</text>
<text id="Ry4" transform="translate(303.70,501.20) rotate(-90)" font-size="10.60" text-anchor="middle" textLength="27.91" lengthAdjust="spacingAndGlyphs" fill="#1a1a1a">(tTest)</text>
<line x1="315.8" y1="593.4" x2="322.6" y2="593.4" stroke="#7FB144" stroke-width="1"/>
<text id="Rg1" x="326.00" y="595.90" font-size="7.00" textLength="55.92" lengthAdjust="spacingAndGlyphs" fill="#222">Enrichment profile</text>
<line x1="390.8" y1="593.3" x2="398.20000000000005" y2="593.3" stroke="#111" stroke-width="1"/>
<text id="Rg2" x="399.60" y="595.50" font-size="7.00" textLength="12.02" lengthAdjust="spacingAndGlyphs" fill="#222">Hits</text>
<line x1="421.3" y1="590.5" x2="428.3" y2="590.5" stroke="#BBB" stroke-width="0.8"/>
<line x1="433.3" y1="595.2" x2="440.3" y2="595.2" stroke="#BBB" stroke-width="0.8"/>
<text id="Rg3" x="443.50" y="595.50" font-size="7.00" textLength="66.00" lengthAdjust="spacingAndGlyphs" fill="#222">Ranking metric scores</text>
<rect x="1" y="1" width="518" height="606" fill="none" stroke="#000" stroke-width="2"/>
</svg>
</body></html>
